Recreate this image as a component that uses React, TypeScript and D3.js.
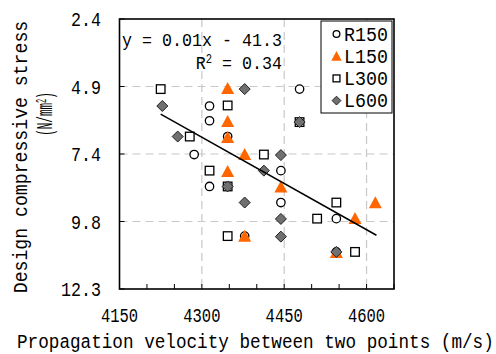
import React from "react";
import * as d3 from "d3";

const xTicks = [4150, 4300, 4450, 4600];
const yTickLabels = ["2.4", "4.9", "7.4", "9.8", "12.3"];
const yMin = 2.4;
const yMax = 12.3;

const r150X = [4314, 4314, 4347, 4478, 4286, 4314, 4378, 4444, 4444, 4545, 4545];
const r150Y = [5.59, 6.13, 6.71, 4.97, 7.37, 8.54, 10.36, 7.96, 9.13, 9.72, 10.94];

const l150X = [4347, 4347, 4347, 4378, 4347, 4444, 4378, 4616, 4579, 4545];
const l150Y = [4.97, 6.18, 6.76, 7.39, 8.01, 8.58, 10.38, 9.16, 9.73, 10.98];

const l300X = [4225, 4347, 4278, 4314, 4347, 4347, 4413, 4545, 4510, 4579, 4478];
const l300Y = [4.97, 5.57, 6.71, 7.96, 8.54, 10.36, 7.37, 9.13, 9.72, 10.94, 6.18];

const l600X = [4228, 4256, 4378, 4478, 4347, 4378, 4413, 4444, 4444, 4444, 4545];
const l600Y = [5.59, 6.71, 4.97, 6.18, 8.54, 9.13, 7.96, 7.39, 9.73, 10.38, 10.94];

const fitX = [4225, 4618];
const fitY = [5.89, 10.33];

const seriesNames = ["R150", "L150", "L300", "L600"];

const FONT = "'Liberation Mono', 'DejaVu Sans Mono', monospace";
const ORANGE = "#FF6600";

function T(props: { x: number; y: number; w: number; h: number; anchor?: string; rot?: boolean; children: any }) {
  const fs = props.h / 0.68;
  const sx = props.w / (0.6 * fs);
  const tr = `translate(${props.x},${props.y})${props.rot ? " rotate(-90)" : ""} scale(${sx},1)`;
  return (
    <text transform={tr} fontFamily={FONT} fontSize={fs} textAnchor={props.anchor || "start"} fill="black">
      {props.children}
    </text>
  );
}

export default function App() {
  const left = 119.5, right = 394, top = 19, bottom = 289;
  const x = d3.scaleLinear().domain([4150, 4650]).range([left, right]);
  const y = d3.scaleLinear().domain([yMin, yMax]).range([top, bottom]);
  const yTickVals = d3.range(5).map((i) => yMin + (i * (yMax - yMin)) / 4);
  const minorX = d3.range(4150, 4651, 50);

  const circle = (cx: number, cy: number, k: string, s = 1) => (
    <circle key={k} cx={cx} cy={cy} r={4.2 * s} fill="white" stroke="black" strokeWidth={1.3} />
  );
  const tri = (cx: number, cy: number, k: string, s = 1) => (
    <path key={k} d={`M${cx},${cy - 7 * s} L${cx + 6.5 * s},${cy + 5 * s} L${cx - 6.5 * s},${cy + 5 * s} Z`} fill={ORANGE} />
  );
  const sq = (cx: number, cy: number, k: string, s = 1) => (
    <rect key={k} x={cx - 4.3 * s} y={cy - 4.3 * s} width={8.6 * s} height={8.6 * s} fill="white" stroke="black" strokeWidth={1.3} />
  );
  const dia = (cx: number, cy: number, k: string, s = 1) => (
    <path key={k} d={`M${cx},${cy - 5.5 * s} L${cx + 5.5 * s},${cy} L${cx},${cy + 5.5 * s} L${cx - 5.5 * s},${cy} Z`} fill="#707070" stroke="#222" strokeWidth={1} />
  );
  const makers = [circle, tri, sq, dia];
  const seriesX = [r150X, l150X, l300X, l600X];
  const seriesY = [r150Y, l150Y, l300Y, l600Y];

  const line = d3.line<number>().x((d) => x(d)).y((_, i) => y(fitY[i]));

  return (
    <svg width={496} height={354} style={{ position: "absolute", left: 0, top: 0, background: "white" }}>
      <rect x={0} y={0} width={496} height={354} fill="white" />
      {xTicks.slice(1).map((t) => (
        <line key={"gx" + t} x1={x(t)} x2={x(t)} y1={top} y2={bottom} stroke="#c8c8c8" strokeWidth={1.2} strokeDasharray="8,5" />
      ))}
      {yTickVals.slice(1, 4).map((t, i) => (
        <line key={"gy" + i} x1={left} x2={right} y1={y(t)} y2={y(t)} stroke="#c8c8c8" strokeWidth={1.2} strokeDasharray="8,5" />
      ))}
      {minorX.map((t) => (
        <line key={"mx" + t} x1={x(t)} x2={x(t)} y1={bottom} y2={bottom - 5} stroke="black" strokeWidth={1} />
      ))}
      {yTickVals.map((t, i) => (
        <line key={"ty" + i} x1={left} x2={left + 5} y1={y(t)} y2={y(t)} stroke="black" strokeWidth={1} />
      ))}
      {seriesX.map((xs, s) => xs.map((xv, i) => makers[s](x(xv), y(seriesY[s][i]), `p${s}-${i}`)))}
      <path d={line(fitX) || ""} fill="none" stroke="black" strokeWidth={1.5} />
      <rect x={left} y={top} width={right - left} height={bottom - top} fill="none" stroke="black" strokeWidth={1.6} />
      <T x={122} y={46} w={10} h={13}>y = 0.01x - 41.3</T>
      <T x={282} y={69} w={10} h={13} anchor="end">
        R<tspan dy={-6} fontSize={12}>2</tspan><tspan dy={6}> = 0.34</tspan>
      </T>
      <rect x={321} y={21} width={71} height={92} fill="white" stroke="black" strokeWidth={1} />
      {seriesNames.map((n, i) => {
        const cy = 34 + i * 22.2;
        return (
          <g key={n}>
            {makers[i](336.5, cy + (i === 1 ? 0.5 : 0), "lg" + i, 0.8)}
            <T x={344} y={cy + 6.5} w={11} h={13.5}>{n}</T>
          </g>
        );
      })}
      {xTicks.map((t) => (
        <T key={"xl" + t} x={x(t)} y={322} w={9.3} h={14} anchor="middle">{t}</T>
      ))}
      {yTickVals.map((t, i) => (
        <T key={"yl" + i} x={101} y={y(t) + 7} w={10} h={14} anchor="end">{yTickLabels[i]}</T>
      ))}
      <T x={17} y={348} w={10.6} h={14}>Propagation velocity between two points (m/s)</T>
      <T x={27} y={157} w={10.9} h={14} anchor="middle" rot>Design compressive stress</T>
      <T x={52} y={114} w={6.6} h={15} anchor="middle" rot>
        (N/mm<tspan dy={-6} fontSize={14}>2</tspan><tspan dy={6}>)</tspan>
      </T>
    </svg>
  );
}
